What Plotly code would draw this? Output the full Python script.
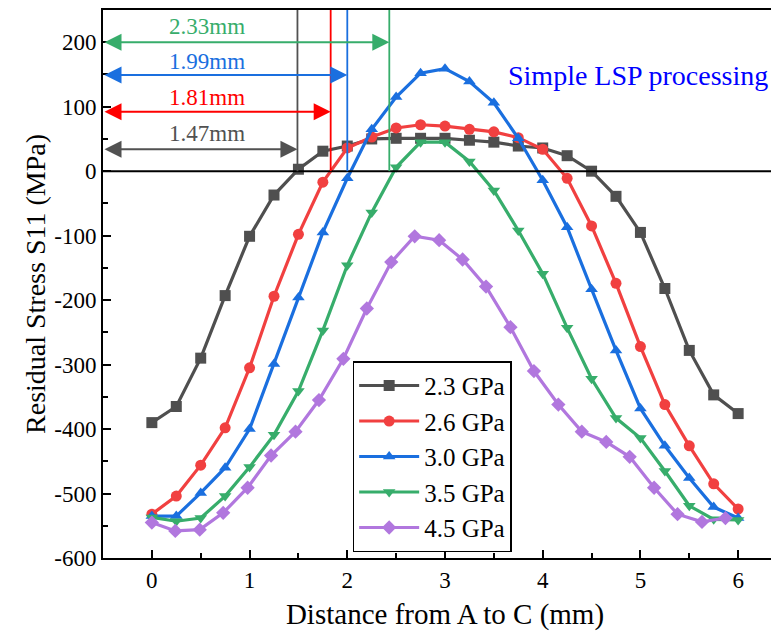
import plotly.graph_objects as go

# distance (mm)
x_std = [0, 0.25, 0.5, 0.75, 1, 1.25, 1.5, 1.75, 2, 2.25, 2.5, 2.75, 3,
         3.25, 3.5, 3.75, 4, 4.25, 4.5, 4.75, 5, 5.25, 5.5, 5.75, 6]
x_45 = [0, 0.24, 0.49, 0.73, 0.98, 1.22, 1.47, 1.71, 1.96, 2.2, 2.45, 2.69, 2.94,
        3.18, 3.42, 3.67, 3.91, 4.16, 4.4, 4.65, 4.89, 5.14, 5.38, 5.63, 5.87]

s_23 = [-390, -365, -290, -193, -101, -37, 3, 31, 39, 50, 51, 51, 51,
        48, 45, 39, 36, 24, 0, -39, -95, -182, -278, -347, -376]
s_26 = [-532, -504, -456, -398, -305, -194, -98, -17, 36, 53, 67, 72, 70,
        65, 61, 52, 34, -11, -85, -174, -272, -362, -426, -485, -524]
s_30 = [-535, -535, -499, -460, -400, -299, -196, -95, -11, 65, 115, 152, 159,
        139, 106, 51, -14, -87, -183, -278, -368, -426, -476, -521, -538]
s_35 = [-537, -543, -538, -504, -459, -409, -341, -247, -146, -64, 6, 45, 45,
        15, -30, -92, -159, -243, -322, -383, -414, -465, -519, -540, -541]
s_45 = [-545, -558, -556, -530, -491, -441, -404, -355, -291, -213, -141, -101, -107,
        -137, -179, -242, -310, -362, -404, -420, -443, -491, -532, -544, -538]

labels = ["2.3 GPa", "2.6 GPa", "3.0 GPa", "3.5 GPa", "4.5 GPa"]
colors = ["#4F4F4F", "#F14040", "#1A6FDF", "#37AD6B", "#B177DE"]
symbols = ["square", "circle", "triangle-up", "triangle-down", "diamond"]

# zero-crossing marks (position on x, arrow height, label height, label)
cross_x = [1.49, 1.83, 2.0, 2.43]
arrow_y = [34, 92, 149, 200]
label_y = [59, 114, 170, 224]
cross_text = ["1.47mm", "1.81mm", "1.99mm", "2.33mm"]
cross_color = ["#515151", "#FF0000", "#1A6FDF", "#37AD6B"]

y_ticks = [-600, -500, -400, -300, -200, -100, 0, 100, 200]
y_text = [str(v) for v in y_ticks]
x_ticks = [0, 1, 2, 3, 4, 5, 6]

FONT = "Liberation Serif, Times New Roman, serif"

fig = go.Figure()

series = [(x_std, s_23), (x_std, s_26), (x_std, s_30), (x_std, s_35), (x_45, s_45)]
for (xs, ys), name, c, sym in zip(series, labels, colors, symbols):
    fig.add_trace(
        go.Scatter(
            x=xs, y=ys, mode="lines+markers", name=name,
            line=dict(color=c, width=3.2),
            marker=dict(symbol=sym, size=11, color=c),
        )
    )

# zero line
fig.add_shape(type="line", x0=0, x1=1, xref="paper", y0=0, y1=0, yref="y",
              line=dict(color="black", width=2), opacity=1, layer="above")

for cx, ay, ly, txt, c in zip(cross_x, arrow_y, label_y, cross_text, cross_color):
    fig.add_shape(type="line", x0=cx, x1=cx, y0=0, y1=250, xref="x", yref="y",
                  line=dict(color=c, width=1.8), opacity=1, layer="above")
    fig.add_annotation(
        x=cx, y=ay, ax=-0.5, ay=ay, xref="x", yref="y", axref="x", ayref="y",
        text="", showarrow=True, arrowside="end+start", arrowhead=2,
        arrowsize=1.7, arrowwidth=2, arrowcolor=c, standoff=0, startstandoff=0,
    )
    fig.add_annotation(
        x=0.56, y=ly, xref="x", yref="y", text=txt, showarrow=False,
        font=dict(family=FONT, size=23, color=c),
    )

fig.add_annotation(
    x=4.97, y=149, xref="x", yref="y", text="Simple LSP processing",
    showarrow=False, font=dict(family=FONT, size=28, color="#0000FF"),
)

fig.update_layout(
    width=779,
    height=639,
    paper_bgcolor="white",
    plot_bgcolor="white",
    margin=dict(l=95, r=0, t=2, b=89),
    font=dict(family=FONT, color="black"),
    showlegend=True,
    legend=dict(
        x=0.365, y=0.359, xanchor="left", yanchor="top",
        bordercolor="black", borderwidth=1.5, bgcolor="white",
        font=dict(family=FONT, size=25, color="black"),
        itemwidth=60, tracegroupgap=0,
    ),
)

fig.update_xaxes(
    range=[-0.5, 6.5], showline=True, linecolor="black", linewidth=2, mirror=True,
    tickmode="array", tickvals=x_ticks, ticks="inside", ticklen=8, tickwidth=1.5,
    tickcolor="black",
    minor=dict(ticks="inside", dtick=0.5, ticklen=5, tickwidth=1.5, tickcolor="black"),
    tickfont=dict(family=FONT, size=23, color="black"), showgrid=False, zeroline=False,
    automargin=False,
    title=dict(text="Distance from A to C (mm)", font=dict(family=FONT, size=29), standoff=12),
)
fig.update_yaxes(
    range=[-600, 250], showline=True, linecolor="black", linewidth=2, mirror=False,
    tickmode="array", tickvals=y_ticks, ticktext=y_text, ticks="inside", ticklen=8,
    tickwidth=1.5, tickcolor="black",
    minor=dict(ticks="inside", dtick=50, ticklen=5, tickwidth=1.5, tickcolor="black"),
    tickfont=dict(family=FONT, size=23, color="black"), showgrid=False, zeroline=False,
    automargin=False,
    title=dict(text="Residual Stress S11 (MPa)", font=dict(family=FONT, size=28), standoff=0),
)

fig.write_html("out.html")
